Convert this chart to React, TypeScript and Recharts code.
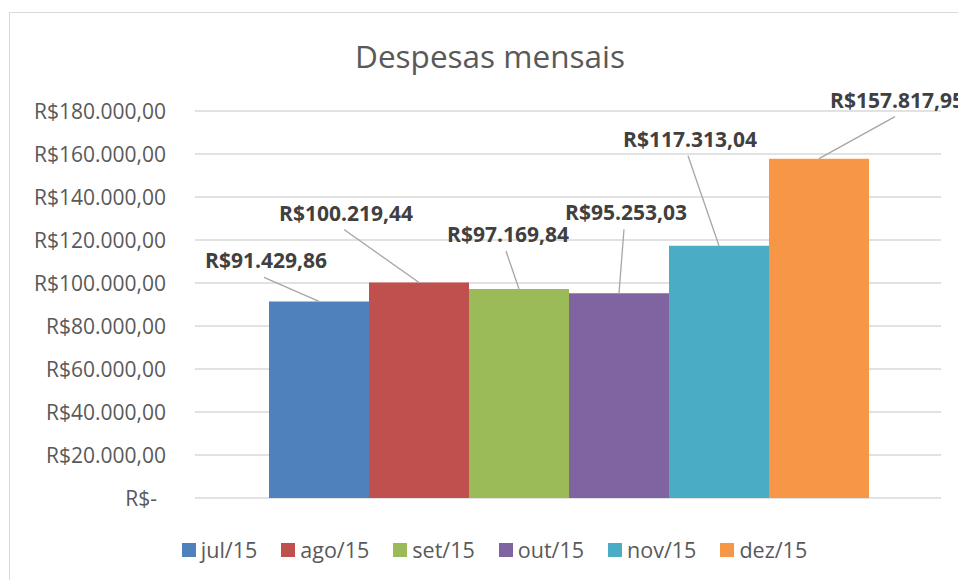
import { BarChart, Bar, XAxis, YAxis, CartesianGrid, LabelList, Legend } from "recharts";

const months = ["jul/15", "ago/15", "set/15", "out/15", "nov/15", "dez/15"];
const expenses = [91429.86, 100219.44, 97169.84, 95253.03, 117313.04, 157817.95];
const colors = ["#4f81bd", "#c0504d", "#9bbb59", "#8064a2", "#4bacc6", "#f79646"];
const yTicks = [0, 20000, 40000, 60000, 80000, 100000, 120000, 140000, 160000, 180000];

// labels were dragged by hand in the original, offset from each bar's top centre
const labelOffsets = [
  [-53, -41],
  [-73, -70],
  [-11, -55],
  [7, -81],
  [-29, -107],
  [78, -59],
];

const FONT = "'Open Sans', sans-serif";

const row: Record<string, string | number> = { name: "Despesas" };
months.forEach((m, i) => {
  row[m] = expenses[i];
});

function brl(v: number) {
  const [int, dec] = v.toFixed(2).split(".");
  return "R$" + int.replace(/\B(?=(\d{3})+(?!\d))/g, ".") + "," + dec;
}

const renderTick = (props: any) => {
  const { x, y, payload } = props;
  const v = payload.value as number;
  return (
    <text
      x={v === 0 ? x - 9 : x}
      y={y}
      textAnchor="end"
      dominantBaseline="central"
      fill="#595959"
      fontSize={21}
      fontFamily={FONT}
    >
      {v === 0 ? "R$-" : brl(v)}
    </text>
  );
};

function leaderLabel(i: number) {
  return (props: any) => {
    const x = Number(props.x);
    const y = Number(props.y);
    const cx = x + Number(props.width) / 2;
    const [dx, dy] = labelOffsets[i];
    const lx = cx + dx;
    const ly = y + dy;
    return (
      <g>
        <line x1={cx} y1={y} x2={lx - 2} y2={ly + 17} stroke="#a6a6a6" strokeWidth={1.3} />
        <text
          x={lx}
          y={ly}
          textAnchor="middle"
          dominantBaseline="central"
          fontWeight={700}
          fontSize={21}
          fontFamily={FONT}
          fill="#404040"
        >
          {brl(Number(props.value))}
        </text>
      </g>
    );
  };
}

const legendContent = () => (
  <div
    style={{
      display: "flex",
      justifyContent: "center",
      fontFamily: FONT,
      fontSize: 21.5,
      color: "#595959",
    }}
  >
    {months.map((m, i) => (
      <div key={m} style={{ display: "flex", alignItems: "center", marginRight: i < months.length - 1 ? 24 : 0 }}>
        <span style={{ display: "inline-block", width: 14, height: 14, background: colors[i], marginRight: 5 }} />
        <span>{m}</span>
      </div>
    ))}
  </div>
);

export default function App() {
  return (
    <div
      style={{
        position: "absolute",
        left: 0,
        top: 0,
        width: 958,
        height: 580,
        overflow: "hidden",
        background: "#fff",
      }}
    >
      <div
        style={{
          position: "absolute",
          left: 9,
          top: 12,
          width: 1000,
          height: 600,
          border: "1px solid #d9d9d9",
        }}
      />
      <BarChart
        width={958}
        height={580}
        data={[row]}
        margin={{ top: 111, right: 17, bottom: 82, left: 0 }}
        barCategoryGap={74}
        barGap={0}
      >
        <CartesianGrid vertical={false} stroke="#d9d9d9" strokeWidth={1.3} />
        <XAxis dataKey="name" hide />
        <YAxis
          width={195}
          domain={[0, 180000]}
          ticks={yTicks}
          axisLine={false}
          tickLine={false}
          tickSize={0}
          tickMargin={29}
          tick={renderTick}
          interval={0}
        />
        <Legend
          layout="horizontal"
          verticalAlign="middle"
          align="center"
          content={legendContent}
          wrapperStyle={{ top: 535, left: 0, width: 989 }}
        />
        {months.map((m, i) => (
          <Bar key={m} dataKey={m} fill={colors[i]} isAnimationActive={false}>
            <LabelList dataKey={m} content={leaderLabel(i)} />
          </Bar>
        ))}
      </BarChart>
      <div
        style={{
          position: "absolute",
          top: 36,
          left: 0,
          width: 980,
          textAlign: "center",
          fontFamily: FONT,
          fontSize: 31.5,
          lineHeight: "40px",
          color: "#595959",
        }}
      >
        Despesas mensais
      </div>
    </div>
  );
}
